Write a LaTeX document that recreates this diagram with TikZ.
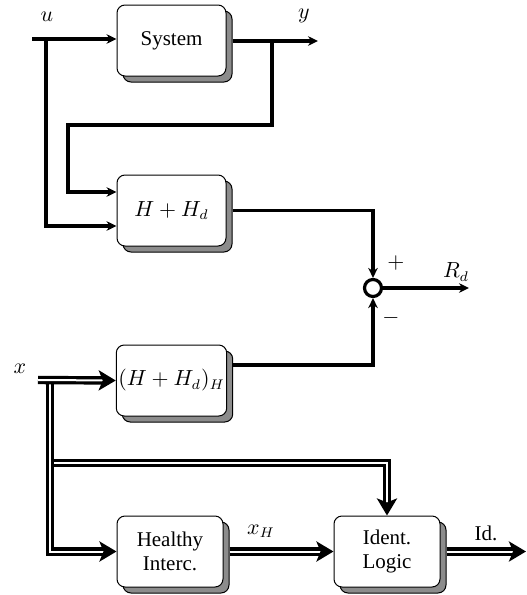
\documentclass[tikz,border=0pt]{standalone}
\usepackage{fontspec}
\setmainfont{Liberation Serif}
\usetikzlibrary{arrows.meta,shadows,calc}

\begin{document}
\begin{tikzpicture}[x=0.5pt,y=-0.5pt,
  blk/.style={draw=black, line width=0.5pt, rounded corners=4pt, fill=white,
    minimum width=54.5pt, minimum height=35.5pt, align=center, inner sep=1pt,
    font=\fontsize{10.5}{12}\selectfont,
    general shadow={fill=black!45, draw=black, line width=0.5pt,
      shadow xshift=3pt, shadow yshift=-3pt}},
  sig/.style={line width=1.9pt, -{Stealth[length=5pt,width=4.8pt]}},
  dbl/.style={double=white, line width=1.6pt, double distance=1.0pt},
  dbla/.style={dbl, -{Stealth[length=8.5pt,width=10pt,inset=2pt]}},
  lbl/.style={font=\fontsize{10.5}{12}\selectfont}
]
\useasboundingbox (0,0) rectangle (526,595);

% blocks
\node[blk] (sys) at (171.5,40.5) {System};
\node[blk] (hhd) at (171.5,210.5) {$H+H_d$};
\node[blk] (hhdh) at (171.5,380.5) {$(H+H_d)_H$};
\node[blk, minimum width=53pt] (hi) at (170,551.5) {Healthy\\Interc.};
\node[blk, minimum width=53pt] (il) at (387,551.5) {Ident.\\Logic};
\node[draw, circle, line width=1.6pt, minimum size=8.5pt, inner sep=0pt] (sum) at (373,288) {};

% junctions and free ends
\coordinate (uin) at (32,39);
\coordinate (uj) at (46,39);
\coordinate (uj2) at (46,226);
\coordinate (yj) at (272,41);
\coordinate (yout) at (318,41);
\coordinate (fb1) at (68,125);
\coordinate (fb2) at (68,192);
\coordinate (hout) at (232,365);
\coordinate (rdout) at (469,288);
\coordinate (xin) at (38,380);
\coordinate (xj) at (50,380);
\coordinate (xb) at (50,463);
\coordinate (idout) at (526,551.5);

% single signal lines
\draw[sig] (uin) -- (sys.west |- uin);
\draw[sig] ([xshift=3pt]sys.east |- yout) -- (yout);
\draw[sig] (yj) |- (fb1) -- (fb2) -- (hhd.west |- fb2);
\draw[sig] (uj) -- (uj2) -- (hhd.west |- uj2);
\draw[sig] ([xshift=3pt]hhd.east) -| (sum.north);
\draw[sig] (hout) -| (sum.south);
\draw[sig] (sum.east) -- (rdout);

% vector signal lines
\draw[dbla] (xb) -| (il.north);
\draw[dbla] (xj) |- (hi.west);
\draw[dbla] (xin) -- (hhdh.west);
\draw[dbla] ([xshift=3pt]hi.east) -- (il.west);
\draw[dbla] ([xshift=3pt]il.east) -- (idout);

% labels
\node[lbl] (lu) at (47,17) {$u$};
\node[lbl] (ly) at (304,16) {$y$};
\node[lbl] (lp) at (396,263) {$+$};
\node[lbl] (lm) at (391,318) {$-$};
\node[lbl] (lrd) at (456,272) {$R_d$};
\node[lbl] (lx) at (20,369) {$x$};
\node[lbl] (lxh) at (261,531) {$x_H$};
\node[lbl] (lid) at (486,533) {Id.};
\end{tikzpicture}
\end{document}
